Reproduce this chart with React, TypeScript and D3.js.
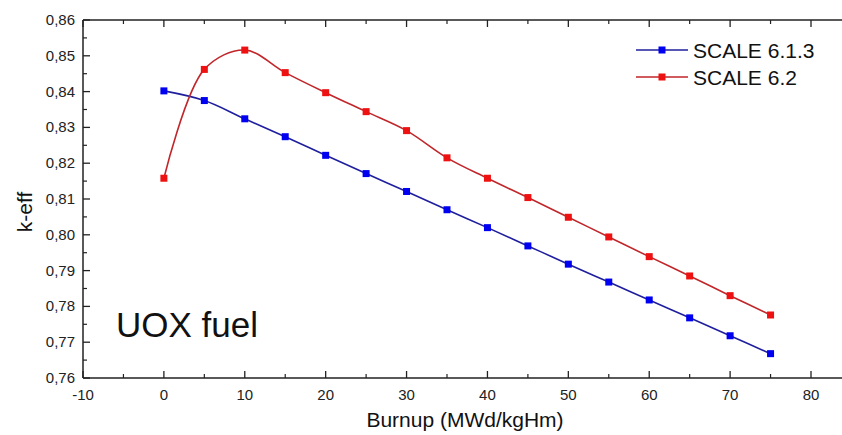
import React from "react";
import * as d3 from "d3";

const burnup = [0, 5, 10, 15, 20, 25, 30, 35, 40, 45, 50, 55, 60, 65, 70, 75];
const scale613 = [0.8402, 0.8375, 0.8324, 0.8274, 0.8222, 0.8171, 0.8121, 0.807, 0.802, 0.7969, 0.7918, 0.7868, 0.7818, 0.7768, 0.7718, 0.7668];
const scale62 = [0.8158, 0.8462, 0.8516, 0.8453, 0.8397, 0.8344, 0.8291, 0.8215, 0.8158, 0.8104, 0.8049, 0.7994, 0.7939, 0.7885, 0.783, 0.7776];
const xTicks = [-10, 0, 10, 20, 30, 40, 50, 60, 70, 80];
const yTicks = [0.76, 0.77, 0.78, 0.79, 0.8, 0.81, 0.82, 0.83, 0.84, 0.85, 0.86];
const seriesNames = ["SCALE 6.1.3", "SCALE 6.2"];

const W = 842;
const H = 435;
const left = 83;
const right = 842;
const top = 20;
const bottom = 378;

export default function App() {
  const x = d3.scaleLinear().domain([-10, 80]).range([left, 811]);
  const y = d3.scaleLinear().domain([0.76, 0.86]).range([bottom, top]);
  const line = d3
    .line<[number, number]>()
    .x((d) => x(d[0]))
    .y((d) => y(d[1]))
    .curve(d3.curveCatmullRom.alpha(0.5));

  const series = [
    { name: seriesNames[0], vals: scale613, line: "#1f1f9e", mark: "#0000f0" },
    { name: seriesNames[1], vals: scale62, line: "#c0262a", mark: "#ee1111" },
  ];

  const xMinor: number[] = [];
  for (let v = -5; v <= 85; v += 10) if (x(v) <= right) xMinor.push(v);
  const yMinor: number[] = [];
  for (let i = 0; i < yTicks.length - 1; i++) yMinor.push((yTicks[i] + yTicks[i + 1]) / 2);

  const font = "Arial, 'Liberation Sans', Helvetica, sans-serif";
  const fmt = (v: number) => v.toFixed(2).replace(".", ",");

  return (
    <svg width={W} height={H} style={{ position: "absolute", left: 0, top: 0, background: "#fff" }} fontFamily={font}>
      {/* axes lines */}
      <line x1={left} x2={right} y1={bottom} y2={bottom} stroke="#222" strokeWidth={1.5} />
      <line x1={left} x2={right} y1={top} y2={top} stroke="#222" strokeWidth={1.5} />
      <line x1={left} x2={left} y1={top} y2={bottom} stroke="#222" strokeWidth={1.5} />

      {/* x ticks */}
      {xTicks.map((t) => (
        <g key={"xt" + t}>
          <line x1={x(t)} x2={x(t)} y1={bottom} y2={bottom - 7} stroke="#222" strokeWidth={1.3} />
          <line x1={x(t)} x2={x(t)} y1={top} y2={top + 7} stroke="#222" strokeWidth={1.3} />
          <text x={x(t)} y={bottom + 22} textAnchor="middle" fontSize={15} fill="#222">
            {t}
          </text>
        </g>
      ))}
      {xMinor.map((t) => (
        <g key={"xm" + t}>
          <line x1={x(t)} x2={x(t)} y1={bottom} y2={bottom - 4} stroke="#222" strokeWidth={1.2} />
          <line x1={x(t)} x2={x(t)} y1={top} y2={top + 4} stroke="#222" strokeWidth={1.2} />
        </g>
      ))}

      {/* y ticks */}
      {yTicks.map((t) => (
        <g key={"yt" + t}>
          <line x1={left} x2={left + 7} y1={y(t)} y2={y(t)} stroke="#222" strokeWidth={1.3} />
          <text x={75} y={y(t) + 5} textAnchor="end" fontSize={15} fill="#222">
            {fmt(t)}
          </text>
        </g>
      ))}
      {yMinor.map((t, i) => (
        <line key={"ym" + i} x1={left} x2={left + 4} y1={y(t)} y2={y(t)} stroke="#222" strokeWidth={1.2} />
      ))}

      {/* axis titles */}
      <text x={465} y={427} textAnchor="middle" fontSize={21} fill="#111">
        Burnup (MWd/kgHm)
      </text>
      <text transform={`translate(32,212) rotate(-90)`} textAnchor="middle" fontSize={21} fill="#111">
        k-eff
      </text>

      {/* annotation */}
      <text x={116} y={337} fontSize={35} fill="#111">
        UOX fuel
      </text>

      {/* series */}
      {series.map((s) => {
        const pts: [number, number][] = burnup.map((b, i) => [b, s.vals[i]]);
        return (
          <g key={s.name}>
            <path d={line(pts) || ""} fill="none" stroke={s.line} strokeWidth={1.6} />
            {pts.map((p, i) => (
              <rect key={i} x={x(p[0]) - 3.5} y={y(p[1]) - 3.5} width={7} height={7} fill={s.mark} />
            ))}
          </g>
        );
      })}

      {/* legend */}
      {series.map((s, i) => {
        const ly = 50 + i * 27;
        return (
          <g key={"lg" + s.name}>
            <line x1={636} x2={688} y1={ly} y2={ly} stroke={s.line} strokeWidth={1.6} />
            <rect x={662 - 3.5} y={ly - 3.5} width={7} height={7} fill={s.mark} />
            <text x={693} y={ly + 7.5} fontSize={21} fill="#111">
              {s.name}
            </text>
          </g>
        );
      })}
    </svg>
  );
}
